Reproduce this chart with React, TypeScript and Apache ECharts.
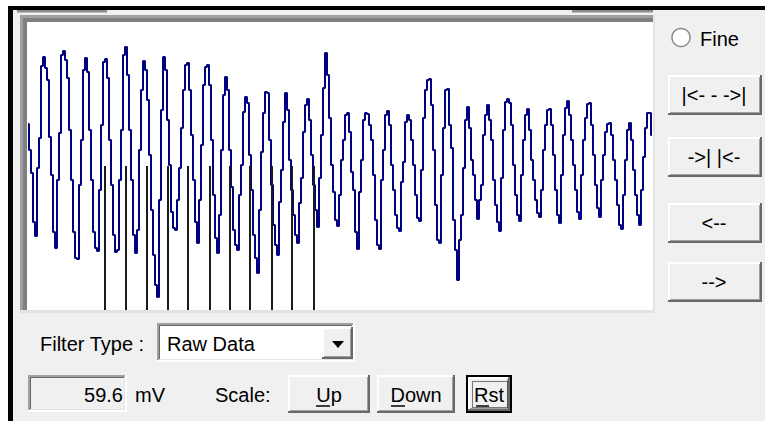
import React, { useEffect, useRef } from "react";
import * as echarts from "echarts";

// Raw trace in mV, one sample per step
const samples: number[] = [
  21, 8, -3.5, -28, -35, -1, 14, 50, 54.5, 49,
  43, 14.5, -4.5, -33, -41, -7, 16.5, 55.5, 57.5, 53,
  44, 18, -7, -33, -46, -46.5, -9.5, 13, 48, 54,
  47, 18, -7, -33, -41, -42.5, -12, 20.5, 52, 53.5,
  44, 13, -9.5, -34.5, -43, -42, -7, 18, 55.5, 59.5,
  45.5, 18, -7, -34.5, -43.5, -32, 8, 38, 52.5, 48,
  33, 5.5, -22, -44.5, -59.5, -65.5, -17, 28, 54.5, 48,
  23, 0.5, -23, -31, -32, -17, -1, 19, 38, 50.5,
  51.5, 38, 15.5, -7, -28, -38.5, -17, 10.5, 40.5, 49.5,
  50.5, 40.5, 13, -14.5, -36, -43.5, -24.5, 8, 35.5, 44.5,
  38, 8, -10.5, -32, -39.5, -42, -14.5, 0.5, 27, 34.5,
  31.5, 5.5, -12, -34.5, -46, -53.5, -22, 7, 26.5, 37,
  36.5, 13, -9.5, -29.5, -39.5, -44.5, -18, -2, 22, 36.5,
  28, 3, -12, -24.5, -34.5, -38.5, -18.5, -6, 17, 30.5,
  33.5, 23, 5.5, -9.5, -22, -30.5, -6, 15.5, 39, 56.5,
  45.5, 24, 0.5, -13, -27, -30, -14.5, 3, 13, 25.5,
  26.5, 17, -3, -12, -33, -41.5, -13, 3, 23, 26.5,
  26, 20.5, 13, -4.5, -27, -39.5, -41.5, -7, 8, 25.5,
  27.5, 20.5, 0.5, -12, -24.5, -31, -32.5, -8, 2, 22,
  25.5, 23, 13, 0.5, -14.5, -26, -27.5, -2, 24, 38,
  43, 43.5, 30.5, 8, -19.5, -37, -38.5, -4.5, 19, 38,
  38.5, 20.5, 9, -27, -42, -57, -37, -24.5, -1, 23,
  29.5, 19, 3, -4.5, -17, -26.5, -17, -9.5, 15.5, 25.5,
  30.5, 23, 13, -7, -19.5, -28, -32.5, -6, 18, 32,
  33.5, 31.5, 20.5, 0.5, -14.5, -24.5, -27.5, -4.5, 13, 25.5,
  28.5, 18, 3, -7, -17, -23.5, -25.5, -12, 8, 20.5,
  28, 28.5, 20.5, 5.5, -12, -24.5, -28.5, -4.5, 15.5, 29,
  32.5, 25.5, 13, 0.5, -12, -23, -26.5, -4.5, 13, 24,
  31, 31.5, 20.5, 5.5, -9.5, -21, -25.5, -7, 5.5, 17,
  21, 21.5, 15.5, 3, -7, -19.5, -29.5, -31.5, -14.5, 3,
  18, 21.5, 13, -2, -14.5, -24.5, -29.5, -12, 4.5, 19,
  26.5, 26.5, 15.5,
];

// Beat markers (sample positions)
const markers: number[] = [38.5, 48.7, 59.5, 69.7, 79.7, 90.7, 100.7, 110.7, 121.8, 132, 142.8];

const yMin = -72;
const yMax = 72;

const sideButtons: string[] = ["|<- - ->|", "->| |<-", "<--", "-->"];
const filterLabel = "Filter Type :";
const filterValue = "Raw Data";
const scaleValue = "59.6";
const scaleUnit = "mV";
const scaleLabel = "Scale:";
const radioLabel = "Fine";

const FONT = '"Liberation Sans", Arial, sans-serif';
const FS = 20;

function raised(x: number, y: number, w: number, h: number): any[] {
  return [
    { type: "rect", shape: { x, y, width: w, height: h }, style: { fill: "#696969" } },
    { type: "rect", shape: { x, y, width: w - 2, height: h - 2 }, style: { fill: "#ffffff" } },
    { type: "rect", shape: { x: x + 2, y: y + 2, width: w - 4, height: h - 4 }, style: { fill: "#a0a0a0" } },
    { type: "rect", shape: { x: x + 2, y: y + 2, width: w - 5, height: h - 5 }, style: { fill: "#f0f0f0" } },
  ];
}

function sunken(x: number, y: number, w: number, h: number, fill: string): any[] {
  return [
    { type: "rect", shape: { x, y, width: w, height: h }, style: { fill: "#ffffff" } },
    { type: "rect", shape: { x, y, width: w - 2, height: h - 2 }, style: { fill: "#a0a0a0" } },
    { type: "rect", shape: { x: x + 2, y: y + 2, width: w - 4, height: h - 4 }, style: { fill: "#e3e3e3" } },
    { type: "rect", shape: { x: x + 2, y: y + 2, width: w - 5, height: h - 5 }, style: { fill: "#696969" } },
    { type: "rect", shape: { x: x + 3, y: y + 3, width: w - 6, height: h - 6 }, style: { fill } },
  ];
}

function txt(x: number, y: number, text: string, align: string = "left"): any {
  return {
    type: "text",
    x,
    y,
    style: {
      text,
      fill: "#000000",
      fontSize: FS,
      fontFamily: FONT,
      textAlign: align,
      textVerticalAlign: "middle",
    },
  };
}

function hline(x1: number, x2: number, y: number): any {
  return { type: "line", shape: { x1, y1: y, x2, y2: y }, style: { stroke: "#000", lineWidth: 1.5 } };
}

export default function App() {
  const ref = useRef<HTMLDivElement>(null);

  useEffect(() => {
    if (!ref.current) return;
    const chart = echarts.init(ref.current, undefined, { renderer: "svg" });

    const g: any[] = [];
    // window frame
    g.push({ type: "rect", shape: { x: 8, y: 6, width: 757, height: 415 }, style: { fill: "#000000" } });
    g.push({ type: "rect", shape: { x: 13, y: 10, width: 752, height: 411 }, style: { fill: "#f0f0f0" } });
    g.push({ type: "rect", shape: { x: 17, y: 10, width: 90, height: 2.5 }, style: { fill: "#8c8c8c" } });
    g.push({ type: "rect", shape: { x: 572, y: 10, width: 81, height: 2.5 }, style: { fill: "#8c8c8c" } });
    // plot frame
    g.push({ type: "rect", shape: { x: 20, y: 15, width: 635, height: 298 }, style: { fill: "#e3e3e3" } });
    g.push({ type: "rect", shape: { x: 20, y: 15, width: 633, height: 295 }, style: { fill: "#a0a0a0" } });
    g.push({ type: "rect", shape: { x: 23, y: 18, width: 630, height: 292 }, style: { fill: "#808080" } });
    g.push({ type: "rect", shape: { x: 27, y: 22, width: 626, height: 288 }, style: { fill: "#ffffff" } });

    // radio
    g.push({ type: "circle", shape: { cx: 681, cy: 37.5, r: 9 }, style: { fill: "#ffffff", stroke: "#8a8a8a", lineWidth: 1.5 } });
    g.push(txt(700, 39, radioLabel));

    // side buttons
    const sideY = [75, 137, 203, 262];
    sideButtons.forEach((label, i) => {
      g.push(...raised(668, sideY[i], 94, 40));
      g.push(txt(714, sideY[i] + 20, label, "center"));
    });

    // filter type
    g.push(txt(40, 344, filterLabel));
    g.push(...sunken(157, 323, 198, 39, "#ffffff"));
    g.push(txt(167, 344, filterValue));
    g.push(...raised(322, 327, 31, 32));
    g.push({ type: "polygon", shape: { points: [[332, 341], [344, 341], [338, 348]] }, style: { fill: "#000000" } });

    // readout
    g.push(...sunken(28, 375, 99, 37, "#f0f0f0"));
    g.push(txt(123, 395, scaleValue, "right"));
    g.push(txt(135, 395, scaleUnit));
    g.push(txt(215, 395, scaleLabel));

    // Up / Down / Rst
    g.push(...raised(288, 375, 82, 38));
    g.push(txt(329, 395, "Up", "center"));
    g.push(hline(316, 330, 406));
    g.push(...raised(377, 375, 78, 38));
    g.push(txt(416, 395, "Down", "center"));
    g.push(hline(391, 405, 406));
    g.push({ type: "rect", shape: { x: 466, y: 375, width: 46, height: 38 }, style: { fill: "#000000" } });
    g.push(...raised(468, 377, 42, 34));
    g.push({ type: "rect", shape: { x: 472.5, y: 381.5, width: 35, height: 26 }, style: { fill: "none", stroke: "#000", lineWidth: 1, lineDash: [1, 1] } });
    g.push(txt(489, 395, "Rst", "center"));
    g.push(hline(476, 489, 406));

    chart.setOption({
      animation: false,
      backgroundColor: "#ffffff",
      graphic: { elements: g.map((e) => ({ silent: true, ...e })) },
      grid: { left: 28, top: 22, width: 624, height: 288, containLabel: false },
      xAxis: { type: "value", min: 0, max: samples.length - 1, show: false },
      yAxis: { type: "value", min: yMin, max: yMax, show: false },
      series: [
        {
          type: "line",
          data: samples.map((v, i) => [i, v]),
          step: "middle",
          symbol: "none",
          showSymbol: false,
          z: 3,
          emphasis: { disabled: true },
          lineStyle: { color: "#000080", width: 2 },
          markLine: {
            silent: true,
            symbol: ["none", "none"],
            label: { show: false },
            emphasis: { disabled: true },
            lineStyle: { color: "#1c1c1c", width: 2, type: "solid" },
            data: markers.map((m) => [{ coord: [m, 0] }, { coord: [m, yMin] }]),
          },
        },
      ],
    });

    return () => chart.dispose();
  }, []);

  return <div ref={ref} style={{ position: "fixed", left: 0, top: 0, width: 765, height: 421 }} />;
}
